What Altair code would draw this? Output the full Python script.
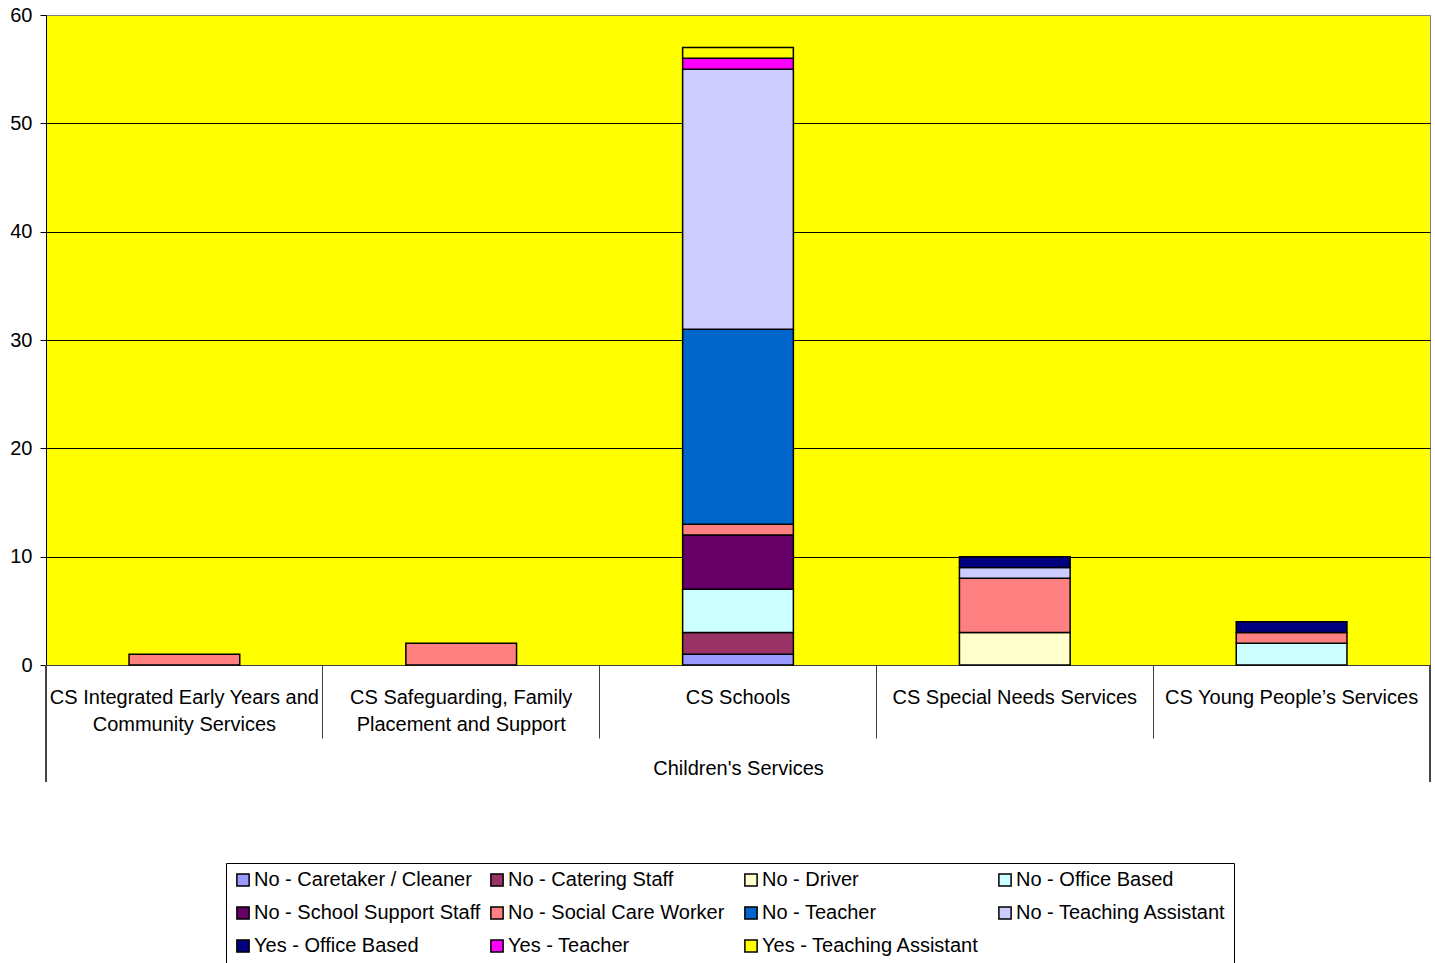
import altair as alt
import pandas as pd

categories = [
    "CS Integrated Early Years and Community Services",
    "CS Safeguarding, Family Placement and Support",
    "CS Schools",
    "CS Special Needs Services",
    "CS Young People’s Services",
]
category_labels = [
    "CS Integrated Early Years and\nCommunity Services",
    "CS Safeguarding, Family\nPlacement and Support",
    "CS Schools",
    "CS Special Needs Services",
    "CS Young People’s Services",
]
group_label = "Children's Services"

series = [
    "No - Caretaker / Cleaner",
    "No - Catering Staff",
    "No - Driver",
    "No - Office Based",
    "No - School Support Staff",
    "No - Social Care Worker",
    "No - Teacher",
    "No - Teaching Assistant",
    "Yes - Office Based",
    "Yes - Teacher",
    "Yes - Teaching Assistant",
]
colors = [
    "#9999FF", "#993366", "#FFFFCC", "#CCFFFF", "#660066", "#FF8080",
    "#0066CC", "#CCCCFF", "#000080", "#FF00FF", "#FFFF00",
]

caretaker = [0, 0, 1, 0, 0]
catering = [0, 0, 2, 0, 0]
driver = [0, 0, 0, 3, 0]
office = [0, 0, 4, 0, 2]
school_support = [0, 0, 5, 0, 0]
social_care = [1, 2, 1, 5, 1]
teacher = [0, 0, 18, 0, 0]
teaching_assistant = [0, 0, 24, 1, 0]
yes_office = [0, 0, 0, 1, 1]
yes_teacher = [0, 0, 1, 0, 0]
yes_ta = [0, 0, 1, 0, 0]

all_values = [caretaker, catering, driver, office, school_support, social_care,
              teacher, teaching_assistant, yes_office, yes_teacher, yes_ta]

rows = []
for i, (s, vals) in enumerate(zip(series, all_values)):
    for c, v in zip(categories, vals):
        if v > 0:
            rows.append({"category": c, "series": s, "count": v, "order": i})
df = pd.DataFrame(rows)
labels_df = pd.DataFrame({"category": categories, "label": category_labels})

W, H = 1384, 650
FONT = "Liberation Sans"

xscale = alt.Scale(domain=categories, paddingInner=0, paddingOuter=0)

bars = alt.Chart(df).mark_bar(
    stroke="black", strokeWidth=1.5, width=alt.RelativeBandSize(0.4)
).encode(
    x=alt.X(
        "category:N", sort=categories, scale=xscale,
        axis=alt.Axis(
            labels=False, bandPosition=0, tickSize=73, tickColor="#404040",
            tickWidth=1, domainColor="#404040", title=group_label,
            titlePadding=20, titleFontSize=20, titleFontWeight="normal",
            titleFont=FONT, titleColor="black",
        ),
    ),
    y=alt.Y(
        "count:Q", stack="zero", scale=alt.Scale(domain=[0, 60], nice=False),
        axis=alt.Axis(
            values=[0, 10, 20, 30, 40, 50, 60], title=None, grid=True,
            gridColor={"condition": {"test": "datum.value == 60", "value": "#808080"}, "value": "black"},
            gridWidth=1, tickSize=6, tickColor="black", domainColor="black",
            labelPadding=8, labelFontSize=20, labelFont=FONT, labelColor="black",
        ),
    ),
    color=alt.Color(
        "series:N", scale=alt.Scale(domain=series, range=colors),
        legend=alt.Legend(
            title=None, orient="none", legendX=180, legendY=848, columns=4,
            direction="horizontal", gridAlign="all", columnPadding=6, rowPadding=13,
            symbolType="square", symbolSize=150, symbolStrokeColor="black",
            symbolStrokeWidth=1.5, labelFontSize=20, labelFont=FONT,
            labelColor="black", labelOffset=1, labelLimit=400, padding=7,
            strokeColor="black",
        ),
    ),
    order=alt.Order("order:Q", sort="ascending"),
)

labels = alt.Chart(labels_df).mark_text(
    lineBreak="\n", baseline="top", fontSize=20, font=FONT, lineHeight=27,
    color="black",
).encode(
    x=alt.X("category:N", sort=categories, scale=xscale),
    y=alt.value(H + 23),
    text="label:N",
)

left_rule = alt.Chart(labels_df).mark_rule(color="#404040", strokeWidth=1).encode(
    x=alt.value(0), y=alt.value(H), y2=alt.value(H + 117)
)
right_rule = alt.Chart(labels_df).mark_rule(color="#404040", strokeWidth=1).encode(
    x=alt.value(W), y=alt.value(H), y2=alt.value(H + 117)
)

chart = alt.layer(bars, labels, left_rule, right_rule).properties(
    width=W, height=H,
    autosize=alt.AutoSizeParams(type="none"),
    padding={"left": 46, "top": 15, "right": 5, "bottom": 298},
    background="white",
).configure_view(
    fill="#FFFF00", stroke="#808080", strokeWidth=1,
)

chart.save("out.html", embed_options={"renderer": "svg", "actions": False})
